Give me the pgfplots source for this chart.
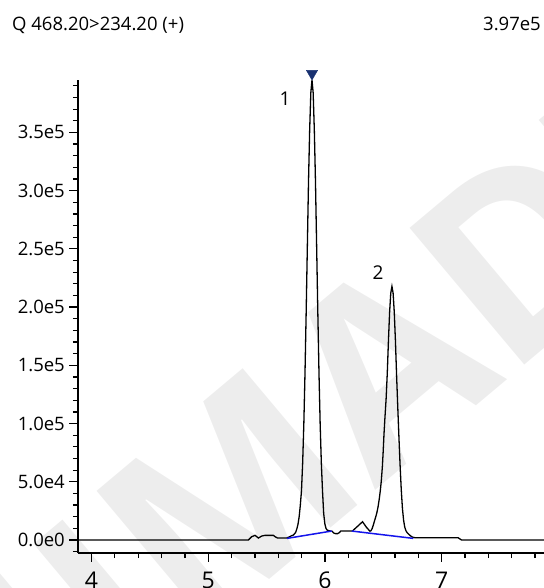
\documentclass[border=0pt]{standalone}
\usepackage{fontspec}
\setmainfont{Open Sans}
\usepackage{pgfplots}
\pgfplotsset{compat=1.18}
\definecolor{navy}{RGB}{24,48,112}
\definecolor{bline}{RGB}{20,20,235}
\definecolor{wmark}{RGB}{237,237,237}
\begin{document}
\begin{tikzpicture}
\useasboundingbox (0,0) rectangle (544bp,588bp);
\begin{scope}
\clip (0,0) rectangle (544bp,588bp);
\node[rotate=40, font=\fontsize{250bp}{250bp}\selectfont\bfseries, text=wmark, inner sep=0pt] at (334bp,179bp) {SHIMADZU};
\end{scope}
\node[anchor=base west, font=\fontsize{18.5bp}{22bp}\selectfont, inner sep=0pt] at (12bp,557bp) {Q 468.20>234.20 (+)};
\node[anchor=base east, font=\fontsize{18.5bp}{22bp}\selectfont, inner sep=0pt] at (541bp,557bp) {3.97e5};
\begin{axis}[
  at={(78bp,35bp)}, anchor=south west,
  scale only axis, width=466bp, height=473bp,
  xmin=3.884, xmax=7.877, ymin=-11150, ymax=395000,
  axis x line=bottom, axis y line=left,
  axis line style={-, line width=1.2bp},
  tick align=outside,
  major tick length=8.5bp, minor tick length=5bp,
  every tick/.style={line width=1.2bp, black},
  xtick={4,5,6,7},
  minor xtick={4.2,4.4,4.6,4.8,5.2,5.4,5.6,5.8,6.2,6.4,6.6,6.8,7.2,7.4,7.6,7.8},
  ytick={0,50000,100000,150000,200000,250000,300000,350000},
  yticklabels={0.0e0,5.0e4,1.0e5,1.5e5,2.0e5,2.5e5,3.0e5,3.5e5},
  minor ytick={-10000,10000,20000,30000,40000,60000,70000,80000,90000,110000,120000,130000,140000,160000,170000,180000,190000,210000,220000,230000,240000,260000,270000,280000,290000,310000,320000,330000,340000,360000,370000,380000,390000},
  scaled y ticks=false,
  /pgf/number format/assume math mode=true,
  xticklabel style={font=\fontsize{23bp}{26bp}\selectfont, inner sep=2bp, yshift=-8bp},
  yticklabel style={font=\fontsize{18.5bp}{22bp}\selectfont, inner sep=2bp, xshift=-2.5bp},
  clip=false,
]
\addplot[black, line width=1.3bp] coordinates {
(3.884,0) (5.344,0) (5.373,2900) (5.401,4000) (5.430,1700) (5.458,3400)
(5.486,4000) (5.558,4000) (5.572,2900) (5.592,1800) (5.672,1700) (5.690,2500)
(5.710,3500) (5.730,4300) (5.749,6500) (5.759,9500) (5.769,13500) (5.779,20000)
(5.789,30000) (5.799,42400) (5.809,66200) (5.819,99500) (5.829,143000) (5.839,195000)
(5.849,251000) (5.859,307000) (5.869,352000) (5.879,384000) (5.889,395000)
(5.899,384000) (5.909,352000) (5.919,307000) (5.929,251000) (5.939,195000)
(5.949,143000) (5.959,99500) (5.969,66200) (5.979,42400) (5.989,23000)
(5.999,14000) (6.009,10000) (6.019,8500) (6.035,8000) (6.050,7700) (6.062,7500)
(6.075,6000) (6.090,5500) (6.110,5500) (6.125,6500) (6.135,7700) (6.235,7700)
(6.280,11800) (6.322,15700) (6.355,11000) (6.385,7600) (6.395,8000) (6.405,10000)
(6.415,13000) (6.425,16500) (6.435,19800) (6.445,23500) (6.455,28500) (6.465,35000)
(6.474,42000) (6.483,51000) (6.492,63000) (6.499,76000) (6.506,91000) (6.514,105000) (6.524,121000)
(6.534,143000) (6.544,171000) (6.554,195500) (6.564,212000) (6.574,217800)
(6.584,212000) (6.594,195500) (6.604,171000) (6.614,141000) (6.624,114000)
(6.634,88000) (6.644,64000) (6.654,43000) (6.664,27000) (6.674,17000) (6.684,11000)
(6.694,8000) (6.704,6300) (6.714,5300) (6.734,3500) (6.750,2500) (6.770,2000) (7.140,2000)
(7.170,0) (7.877,0)
};
\addplot[bline, line width=1.5bp] coordinates {(5.675,1400) (6.058,7700)};
\addplot[bline, line width=1.5bp] coordinates {(6.230,7700) (6.757,1400)};
\addplot[only marks, mark=triangle*, mark size=6.5bp, navy, mark options={rotate=180, fill=navy, draw=navy}] coordinates {(5.889,400500)};
\node[font=\fontsize{19bp}{22bp}\selectfont] at (axis cs:5.658,379000) {1};
\node[font=\fontsize{19bp}{22bp}\selectfont] at (axis cs:6.455,230000) {2};
\end{axis}
\end{tikzpicture}
\end{document}
